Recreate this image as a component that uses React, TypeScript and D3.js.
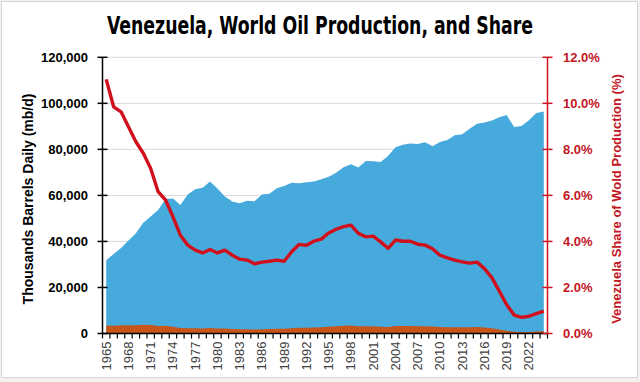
import React from 'react';
import * as d3 from 'd3';

const years = [
  1965, 1966, 1967, 1968, 1969, 1970, 1971, 1972, 1973, 1974,
  1975, 1976, 1977, 1978, 1979, 1980, 1981, 1982, 1983, 1984,
  1985, 1986, 1987, 1988, 1989, 1990, 1991, 1992, 1993, 1994,
  1995, 1996, 1997, 1998, 1999, 2000, 2001, 2002, 2003, 2004,
  2005, 2006, 2007, 2008, 2009, 2010, 2011, 2012, 2013, 2014,
  2015, 2016, 2017, 2018, 2019, 2020, 2021, 2022, 2023, 2024,
];

// World oil production, thousand barrels daily
const worldProduction = [
  31800, 34560, 37120, 40440, 43600, 48070, 50830, 53670, 58470, 58620,
  55830, 60420, 62710, 63310, 66050, 62960, 59540, 57300, 56600, 57680,
  57460, 60430, 60760, 63150, 64050, 65470, 65280, 65760, 66020, 67050,
  68120, 69870, 72240, 73550, 72070, 74960, 74890, 74470, 77140, 80940,
  81980, 82530, 82370, 83070, 81330, 83230, 84090, 86150, 86580, 89000,
  91100, 91700, 92500, 94000, 94900, 89700, 90100, 92700, 95800, 96400,
];

// Venezuela oil production, thousand barrels daily
const venezuelaProduction = [
  3510, 3400, 3575, 3630, 3630, 3765, 3645, 3305, 3390, 2970,
  2385, 2320, 2270, 2215, 2410, 2205, 2155, 1950, 1830, 1840,
  1740, 1875, 1910, 2015, 2010, 2325, 2525, 2520, 2645, 2750,
  2975, 3165, 3350, 3465, 3135, 3150, 3170, 2965, 2855, 3285,
  3285, 3310, 3195, 3190, 2995, 2830, 2765, 2750, 2695, 2725,
  2825, 2585, 2250, 1730, 1185, 720, 630, 695, 825, 935,
];

// Venezuela share of world production, %
const venezuelaShare = [
  11.04, 9.85, 9.63, 8.98, 8.33, 7.83, 7.17, 6.16, 5.80, 5.07,
  4.27, 3.84, 3.62, 3.50, 3.65, 3.50, 3.62, 3.40, 3.23, 3.19,
  3.03, 3.10, 3.14, 3.19, 3.14, 3.55, 3.87, 3.83, 4.01, 4.10,
  4.37, 4.53, 4.64, 4.71, 4.35, 4.20, 4.23, 3.98, 3.70, 4.06,
  4.01, 4.01, 3.88, 3.84, 3.68, 3.40, 3.29, 3.19, 3.11, 3.06,
  3.10, 2.82, 2.43, 1.84, 1.25, 0.80, 0.70, 0.75, 0.86, 0.97,
];

const leftTicks = [0, 20000, 40000, 60000, 80000, 100000, 120000];
const rightTicks = [0, 2, 4, 6, 8, 10, 12];

const titleText = 'Venezuela, World Oil Production, and Share';
const leftTitle = 'Thousands Barrels Daily (mb/d)';
const rightTitle = 'Venezuela Share of Wold Production (%)';

export default function App() {
  const W = 640;
  const H = 382;
  const left = 102.5;
  const right = 547.5;
  const top = 57.3;
  const bottom = 333.5;

  const x = d3.scaleBand<number>().domain(years).range([left, right]).padding(0);
  const cx = (yr: number) => (x(yr) as number) + x.bandwidth() / 2;
  const y = d3.scaleLinear().domain([0, 120000]).range([bottom, top]);
  const y2 = d3.scaleLinear().domain([0, 12]).range([bottom, top]);

  const area = d3
    .area<number>()
    .x((_, i) => cx(years[i]))
    .y0(y(0))
    .y1((d) => y(d));
  const line = d3
    .line<number>()
    .x((_, i) => cx(years[i]))
    .y((d) => y2(d));

  const fmtLeft = d3.format(',');
  const fmtRight = (d: number) => d3.format('.1f')(d) + '%';
  const boundaries = years.map((yr) => x(yr) as number).concat([right]);
  const labelYears = years.filter((_, i) => i % 3 === 0);

  const red = '#d0101c';
  const redText = '#c3161f';
  const font = "'Liberation Sans', Arial, sans-serif";

  return (
    <svg
      width={W}
      height={H}
      viewBox={`0 0 ${W} ${H}`}
      style={{ position: 'fixed', left: 0, top: 0, background: '#ffffff' }}
      fontFamily={font}
    >
      <rect x={0} y={0} width={W} height={H} fill="#f2f2f2" />
      <rect x={1.5} y={1.5} width={636} height={376} fill="#ffffff" stroke="#d4d4d4" strokeWidth={1} />

      <text
        x={320}
        y={34}
        textAnchor="middle"
        fontSize={24}
        fontWeight="bold"
        textLength={426}
        lengthAdjust="spacingAndGlyphs"
        fontFamily="'DejaVu Sans Condensed', 'Liberation Sans', Arial, sans-serif"
        fill="#000"
      >
        {titleText}
      </text>

      {/* gridlines */}
      {leftTicks.slice(1).map((t) => (
        <line key={'g' + t} x1={left} x2={right} y1={y(t)} y2={y(t)} stroke="#d9d9d9" strokeWidth={1} />
      ))}

      {/* areas */}
      <path d={area(worldProduction) || ''} fill="#46aadd" />
      <path d={area(venezuelaProduction) || ''} fill="#c8561a" />

      {/* share line */}
      <path d={line(venezuelaShare) || ''} fill="none" stroke={red} strokeWidth={3.4} strokeLinejoin="round" />

      {/* x axis */}
      <line x1={left} x2={right} y1={bottom} y2={bottom} stroke="#000" strokeWidth={1.5} />
      {boundaries.map((b, i) => (
        <line key={'xt' + i} x1={b} x2={b} y1={bottom} y2={bottom + 5} stroke="#000" strokeWidth={1.2} />
      ))}
      {labelYears.map((yr) => (
        <text
          key={'xl' + yr}
          transform={`translate(${cx(yr)},${bottom + 8}) rotate(-90)`}
          textAnchor="end"
          dominantBaseline="central"
          fontSize={13}
          fill="#404040"
        >
          {yr}
        </text>
      ))}

      {/* left axis */}
      <line x1={left} x2={left} y1={top} y2={bottom} stroke="#000" strokeWidth={1.5} />
      {leftTicks.map((t) => (
        <g key={'lt' + t}>
          <line x1={left - 5} x2={left + 5} y1={y(t)} y2={y(t)} stroke="#000" strokeWidth={1.5} />
          <text x={88} y={y(t)} textAnchor="end" dominantBaseline="central" fontSize={13} fontWeight="bold" fill="#000">
            {fmtLeft(t)}
          </text>
        </g>
      ))}
      <text
        transform={`translate(33,199) rotate(-90)`}
        textAnchor="middle"
        fontSize={14}
        fontWeight="bold"
        fill="#000"
      >
        {leftTitle}
      </text>

      {/* right axis */}
      <line x1={right} x2={right} y1={top} y2={bottom} stroke={red} strokeWidth={1.5} />
      {rightTicks.map((t) => (
        <g key={'rt' + t}>
          <line x1={right - 5} x2={right + 5} y1={y2(t)} y2={y2(t)} stroke={red} strokeWidth={1.5} />
          <text x={563} y={y2(t)} textAnchor="start" dominantBaseline="central" fontSize={13} fontWeight="bold" fill={redText}>
            {fmtRight(t)}
          </text>
        </g>
      ))}
      <text
        transform={`translate(621,199) rotate(-90)`}
        textAnchor="middle"
        fontSize={13}
        fontWeight="bold"
        fill={redText}
      >
        {rightTitle}
      </text>
    </svg>
  );
}
